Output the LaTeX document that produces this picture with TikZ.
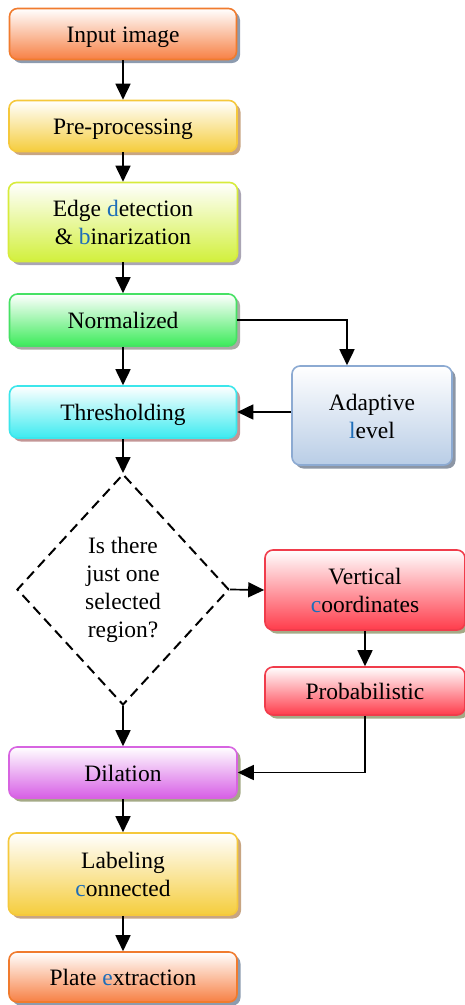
\documentclass[tikz,border=0pt]{standalone}
\usepackage{fontspec}
\setmainfont{Liberation Serif}
\usetikzlibrary{shapes.geometric,shadows,arrows.meta}
\definecolor{orB}{RGB}{240,123,46}\definecolor{orF}{RGB}{247,128,68}\definecolor{orS}{RGB}{140,155,175}
\definecolor{goB}{RGB}{245,200,60}\definecolor{goF}{RGB}{245,205,60}\definecolor{goS}{RGB}{200,165,130}
\definecolor{liB}{RGB}{215,235,60}\definecolor{liF}{RGB}{210,240,60}\definecolor{liS}{RGB}{170,165,180}
\definecolor{grB}{RGB}{70,225,100}\definecolor{grF}{RGB}{60,235,90}\definecolor{grS}{RGB}{170,170,165}
\definecolor{cyB}{RGB}{60,230,235}\definecolor{cyF}{RGB}{60,235,240}\definecolor{cyS}{RGB}{195,150,150}
\definecolor{stB}{RGB}{140,170,210}\definecolor{stF}{RGB}{185,205,230}\definecolor{stS}{RGB}{140,150,165}
\definecolor{reB}{RGB}{240,60,75}\definecolor{reF}{RGB}{255,60,75}\definecolor{reS}{RGB}{165,170,135}
\definecolor{viB}{RGB}{215,100,225}\definecolor{viF}{RGB}{215,95,230}\definecolor{viS}{RGB}{165,170,135}
\definecolor{bl}{RGB}{30,110,185}
\newcommand{\bc}[1]{\textcolor{bl}{#1}}
\newcommand{\T}[1]{\raisebox{0pt}[\dimexpr\height+6pt\relax][\depth]{\begin{tabular}{@{}c@{}}#1\end{tabular}}}
\begin{document}
\begin{tikzpicture}[x=1pt,y=-1pt,
  txt/.style={font=\rmfamily\fontsize{23.5}{28}\selectfont, align=center},
  box/.style={txt, rectangle, rounded corners=8pt, line width=1.6pt, inner sep=0pt},
  cbox/.style n args={3}{box, draw=#1, top color=white, bottom color=#2,
     drop shadow={shadow xshift=3.5pt, shadow yshift=-3.5pt, fill=#3, opacity=1}},
  orbox/.style={cbox={orB}{orF}{orS}},
  gobox/.style={cbox={goB}{goF}{goS}},
  libox/.style={cbox={liB}{liF}{liS}},
  grbox/.style={cbox={grB}{grF}{grS}},
  cybox/.style={cbox={cyB}{cyF}{cyS}},
  stbox/.style={cbox={stB}{stF}{stS}},
  rebox/.style={cbox={reB}{reF}{reS}},
  vibox/.style={cbox={viB}{viF}{viS}},
  arr/.style={line width=1.7pt, -{Triangle[width=15pt,length=16pt]}},
  decision/.style={txt, diamond, draw, dashed, dash pattern=on 10pt off 6pt, line width=2pt, inner sep=0pt}
]
\useasboundingbox (0,0) rectangle (465,1005);
\node[orbox, minimum width=227, minimum height=51] (inp) at (123,34) {\T{Input image}};
\node[gobox, minimum width=228, minimum height=51] (pre) at (123,126) {\T{Pre-processing}};
\node[libox, minimum width=229, minimum height=79] (edge) at (123,222) {\T{Edge \bc{d}etection\\ \& \bc{b}inarization}};
\node[grbox, minimum width=227, minimum height=52] (norm) at (123,320) {\T{Normalized}};
\node[cybox, minimum width=227, minimum height=52] (thr) at (123,412) {\T{Thresholding}};
\node[stbox, minimum width=160, minimum height=99] (ada) at (372,415.5) {\T{Adaptive\\ \bc{l}evel}};
\node[decision, minimum width=212, minimum height=231] (dec) at (123,589.5) {Is there\\ just one\\ selected\\ region?};
\node[rebox, minimum width=200, minimum height=80] (vert) at (365,590) {\T{Vertical\\ \bc{c}oordinates}};
\node[rebox, minimum width=200, minimum height=48] (prob) at (365,691) {\T{Probabilistic}};
\node[vibox, minimum width=228, minimum height=51] (dil) at (123,772.5) {\T{Dilation}};
\node[gobox, minimum width=229, minimum height=82] (lab) at (123,874) {\T{Labeling\\ \bc{c}onnected}};
\node[orbox, minimum width=228, minimum height=50] (pla) at (123,977) {\T{Plate \bc{e}xtraction}};
\draw[arr] (inp) -- (pre);
\draw[arr] (pre) -- (edge);
\draw[arr] (edge) -- (norm);
\draw[arr] (norm) -- (thr);
\draw[arr] (norm.east) -| ([xshift=-25pt]ada.north);
\draw[arr] (ada.west |- thr.east) -- (thr.east);
\draw[arr] (thr.south) -- (dec.north);
\draw[arr] (dec.east) -- (vert.west);
\draw[arr] (vert) -- (prob);
\draw[arr] (prob.south) |- (dil.east);
\draw[arr] (dec.south) -- (dil.north);
\draw[arr] (dil) -- (lab);
\draw[arr] (lab) -- (pla);
\end{tikzpicture}
\end{document}
